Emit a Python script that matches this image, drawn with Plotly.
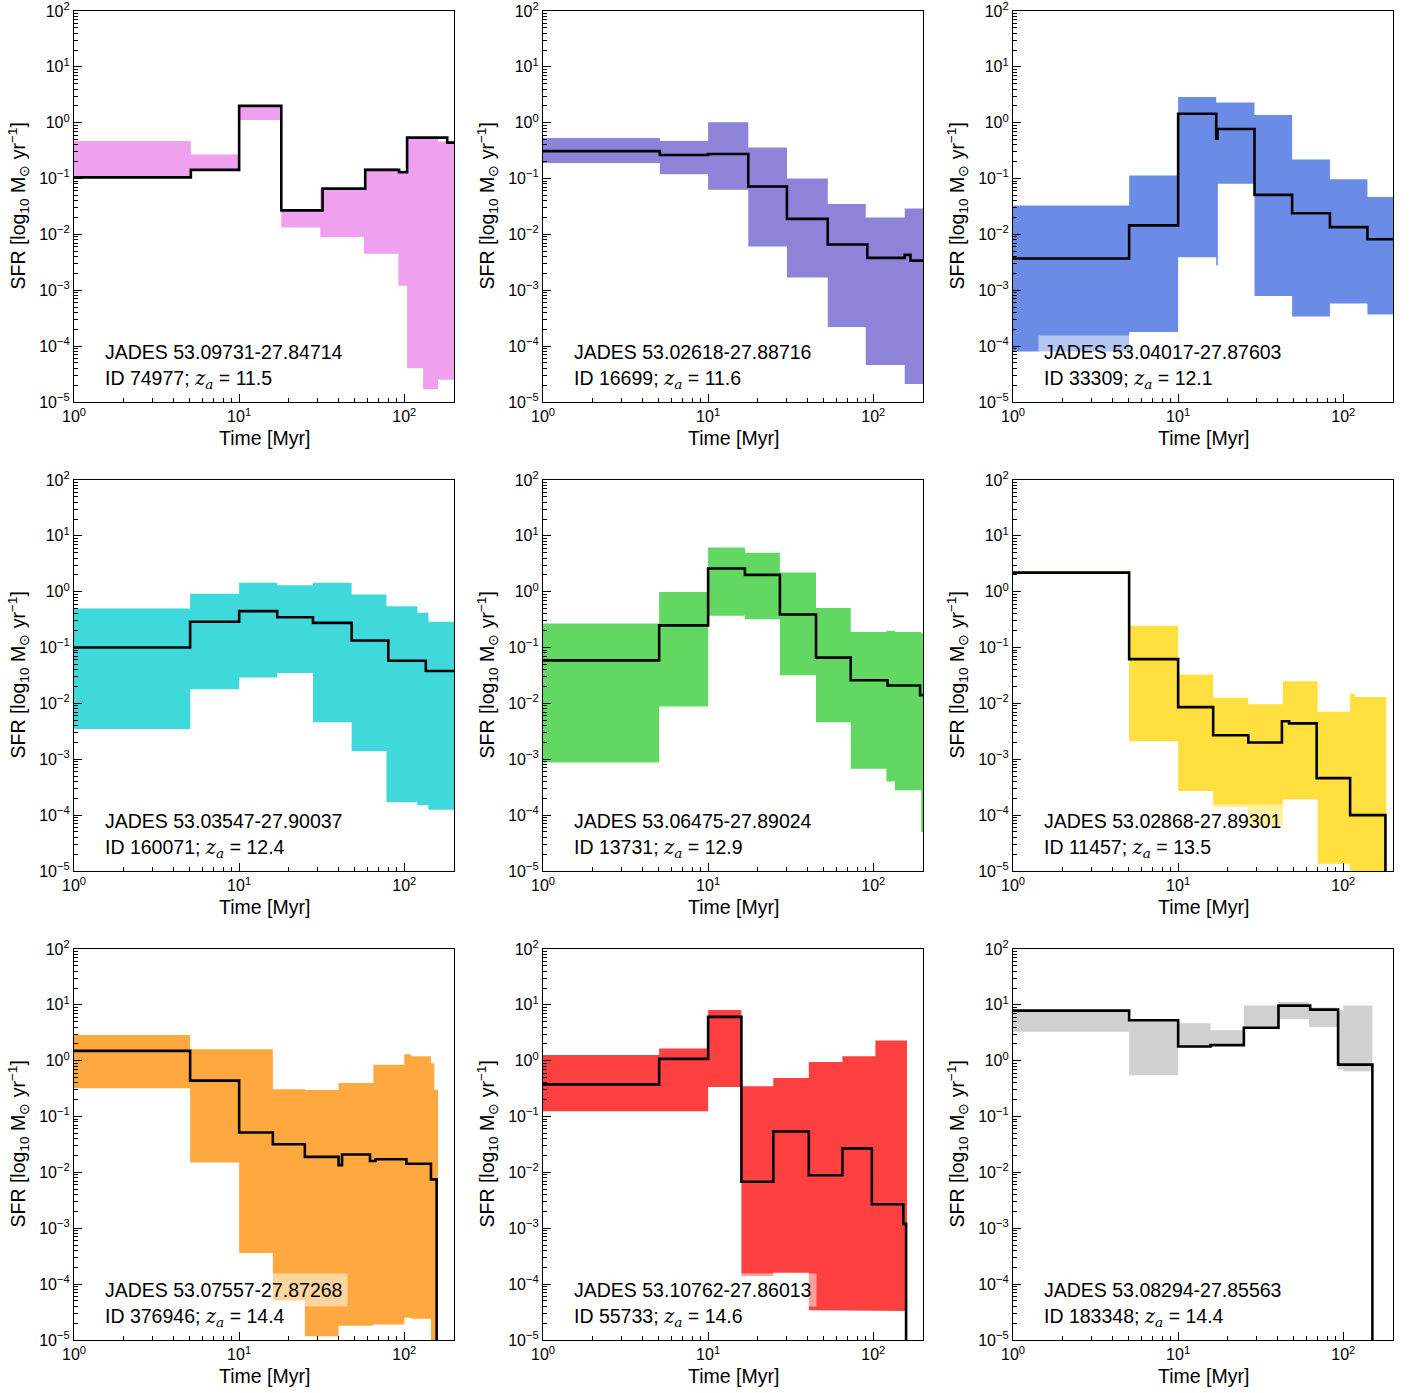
import math
import plotly.graph_objects as go

# ---------------- data ----------------
NAMES = ["JADES 53.09731-27.84714", "JADES 53.02618-27.88716", "JADES 53.04017-27.87603",
         "JADES 53.03547-27.90037", "JADES 53.06475-27.89024", "JADES 53.02868-27.89301",
         "JADES 53.07557-27.87268", "JADES 53.10762-27.86013", "JADES 53.08294-27.85563"]
IDS = ["74977", "16699", "33309", "160071", "13731", "11457", "376946", "55733", "183348"]
ZA = ["11.5", "11.6", "12.1", "12.4", "12.9", "13.5", "14.4", "14.6", "14.4"]
COLORS = ["#EFA0EE", "#8D83D9", "#6B8CE6", "#3FD8DB", "#62D862",
          "#FFE03F", "#FFA83F", "#FF4040", "#D0D0D0"]

X_TICKS = [1, 10, 100]
X_EXP = [0, 1, 2]
Y_TICKS = [1e-5, 1e-4, 1e-3, 1e-2, 1e-1, 1, 10, 100]
Y_EXP = [-5, -4, -3, -2, -1, 0, 1, 2]

# panel 1 : ID 74977
P1_T = [1, 5.1, 10, 18, 32, 58, 93, 104, 182, 200]
P1_SFR = [0.105, 0.143, 2.0, 0.027, 0.066, 0.143, 0.13, 0.54, 0.44]
P1_BT = [1, 5.1, 10, 18, 31, 57, 92, 104, 130, 160, 200]
P1_LO = [0.105, 0.14, 1.12, 0.0133, 0.0089, 0.0045, 0.0012, 4e-5, 1.7e-5, 2.5e-5]
P1_HI = [0.47, 0.27, 2.0, 0.028, 0.066, 0.155, 0.14, 0.54, 0.54, 0.46]

# panel 2 : ID 16699
P2_T = [1, 5.1, 10, 17.5, 30, 53, 92, 155, 168, 200]
P2_SFR = [0.31, 0.265, 0.275, 0.072, 0.019, 0.0066, 0.0038, 0.0043, 0.0034]
P2_BT = [1, 5.1, 10, 17.5, 30, 53, 90, 155, 200]
P2_LO = [0.19, 0.12, 0.063, 0.0061, 0.0017, 2.2e-4, 4.6e-5, 2.1e-5]
P2_HI = [0.53, 0.47, 1.02, 0.36, 0.10, 0.035, 0.02, 0.029]

# panel 3 : ID 33309
P3_T = [1, 5.05, 10, 17, 17.3, 29, 49, 83, 140, 200]
P3_SFR = [0.0037, 0.0145, 1.45, 0.52, 0.77, 0.051, 0.024, 0.0135, 0.0082]
P3_BT = [1, 5.05, 10, 17, 17.4, 29, 49, 83, 140, 200]
P3_LO = [8e-5, 1.8e-4, 0.0039, 0.0028, 0.081, 7.9e-4, 3.4e-4, 5.8e-4, 3.7e-4]
P3_HI = [0.033, 0.113, 2.9, 2.3, 2.3, 1.38, 0.22, 0.097, 0.047]

# panel 4 : ID 160071
P4_T = [1, 5.05, 10, 17, 28, 48, 80, 135, 200]
P4_SFR = [0.1, 0.29, 0.45, 0.35, 0.277, 0.134, 0.058, 0.038]
P4_BT = [1, 5.05, 10, 17, 28, 48, 78, 120, 140, 200]
P4_LO = [0.0035, 0.018, 0.029, 0.035, 0.0046, 0.0014, 1.7e-4, 1.5e-4, 1.25e-4]
P4_HI = [0.5, 0.92, 1.45, 1.3, 1.45, 0.89, 0.55, 0.42, 0.29]

# panel 5 : ID 13731
P5_T = [1, 5.05, 10, 16.7, 27.2, 45, 73, 122, 192, 200]
P5_SFR = [0.059, 0.25, 2.6, 2.0, 0.39, 0.066, 0.026, 0.021, 0.014]
P5_BT = [1, 5.05, 10, 16.7, 27.2, 45, 73, 120, 135, 195, 200]
P5_LO = [8.8e-4, 0.0088, 0.37, 0.32, 0.032, 0.0046, 6.8e-4, 4e-4, 2.8e-4, 5e-5]
P5_HI = [0.27, 0.99, 6.2, 5.0, 2.2, 0.51, 0.19, 0.2, 0.19, 0.18]

# panel 6 : ID 11457
P6_T = [1, 5.05, 10, 16.3, 26.6, 42.5, 47, 69, 110, 180, 180]
P6_SFR = [2.2, 0.062, 0.0086, 0.0027, 0.002, 0.0048, 0.0044, 4.6e-4, 1e-4, 1e-7]
P6_BT = [1, 5.05, 10, 16.3, 26.6, 43, 70, 110, 118, 182]
P6_LO = [2.1, 0.0021, 2.7e-4, 1.4e-4, 6.5e-5, 1.9e-4, 1.35e-5, 8e-6, 8e-6]
P6_HI = [2.35, 0.245, 0.033, 0.0127, 0.0097, 0.025, 0.0071, 0.015, 0.013]

# panel 7 : ID 376946
P7_T = [1, 5.05, 10, 16, 25, 40, 42, 62, 67, 103, 145, 157, 157]
P7_SFR = [1.5, 0.44, 0.052, 0.032, 0.019, 0.0135, 0.021, 0.016, 0.0172, 0.0143, 0.0075, 1e-7]
P7_BT = [1, 5.05, 10, 16, 25, 40, 65, 100, 110, 145, 152, 160]
P7_LO = [0.32, 0.015, 3.6e-4, 5.1e-5, 1.17e-5, 1.8e-5, 1.9e-5, 2.5e-5, 2.4e-5, 1e-5, 5e-6]
P7_HI = [2.9, 1.6, 1.6, 0.31, 0.3, 0.4, 0.85, 1.3, 1.2, 0.9, 0.3]

# panel 8 : ID 55733
P8_T = [1, 5.05, 10, 15.9, 24.8, 40.7, 65, 98, 152, 158, 158]
P8_SFR = [0.377, 1.08, 6.1, 0.0068, 0.054, 0.0089, 0.027, 0.0027, 0.0012, 1e-7]
P8_BT = [1, 5.05, 10, 15.9, 24.8, 40.7, 65, 103, 160]
P8_LO = [0.124, 0.124, 0.34, 1.4e-4, 1.6e-4, 3.4e-5, 3.4e-5, 3.3e-5]
P8_HI = [1.26, 1.65, 8.1, 0.35, 0.49, 0.95, 1.2, 2.3]

# panel 9 : ID 183348
P9_T = [1, 5.05, 10, 15.7, 25, 40.5, 63, 93, 150, 150]
P9_SFR = [7.9, 5.3, 1.8, 1.9, 3.9, 9.7, 8.2, 0.85, 1e-7]
P9_BT = [1, 5.05, 10, 15.7, 25, 40.5, 62, 93, 100, 150]
P9_LO = [3.3, 0.55, 1.8, 1.9, 3.9, 5.6, 4.0, 0.7, 0.65]
P9_HI = [7.9, 5.3, 4.7, 3.5, 9.7, 11.3, 9.0, 8.0, 9.7]

PANELS = [
    (P1_T, P1_SFR, P1_BT, P1_LO, P1_HI),
    (P2_T, P2_SFR, P2_BT, P2_LO, P2_HI),
    (P3_T, P3_SFR, P3_BT, P3_LO, P3_HI),
    (P4_T, P4_SFR, P4_BT, P4_LO, P4_HI),
    (P5_T, P5_SFR, P5_BT, P5_LO, P5_HI),
    (P6_T, P6_SFR, P6_BT, P6_LO, P6_HI),
    (P7_T, P7_SFR, P7_BT, P7_LO, P7_HI),
    (P8_T, P8_SFR, P8_BT, P8_LO, P8_HI),
    (P9_T, P9_SFR, P9_BT, P9_LO, P9_HI),
]

# ---------------- layout ----------------
W, H = 1413, 1393
COL_LEFT = [74, 543, 1013]
ROW_TOP = [11, 480, 949]
PW, PH = 380, 391
FONT = "Liberation Sans, Arial, Helvetica, sans-serif"
SERIF = "DejaVu Serif, Liberation Serif, serif"


def steps(edges, vals):
    xs, ys = [], []
    for i, v in enumerate(vals):
        xs += [edges[i], edges[i + 1]]
        ys += [v, v]
    return xs, ys


def sup(e):
    return "10<sup>" + ("\u2212" + str(-e) if e < 0 else str(e)) + "</sup>"


minor_x = [k * 10 ** n for n in range(0, 3) for k in range(2, 10)]
minor_y = [k * 10.0 ** n for n in range(-5, 2) for k in range(2, 10)]

fig = go.Figure()
layout = dict(width=W, height=H, margin=dict(l=0, r=0, t=0, b=0, autoexpand=False),
              plot_bgcolor="white", paper_bgcolor="white", showlegend=False,
              font=dict(family=FONT, color="black"))
annotations = []

for i, (lt, sfr, bt, lo, hi) in enumerate(PANELS):
    n = i + 1
    r, c = divmod(i, 3)
    sx = "" if n == 1 else str(n)
    xname, yname = "x" + sx, "y" + sx
    x0 = COL_LEFT[c] / W
    x1 = (COL_LEFT[c] + PW) / W
    y1 = 1 - ROW_TOP[r] / H
    y0 = 1 - (ROW_TOP[r] + PH) / H

    hx, hy = steps(bt, hi)
    lx, ly = steps(bt, lo)
    fig.add_trace(go.Scatter(x=hx + lx[::-1], y=hy + ly[::-1], fill="toself",
                             fillcolor=COLORS[i], mode="lines",
                             line=dict(width=0, color=COLORS[i]),
                             xaxis=xname, yaxis=yname, hoverinfo="skip"))
    sxs, sys_ = steps(lt, sfr)
    fig.add_trace(go.Scatter(x=sxs, y=sys_, mode="lines",
                             line=dict(color="black", width=2.6),
                             xaxis=xname, yaxis=yname))

    common = dict(showgrid=False, zeroline=False, showline=True, linecolor="black",
                  linewidth=1.2, mirror=True, ticks="inside", ticklen=8, tickwidth=1,
                  tickcolor="black", automargin=False, ticklabeloverflow="allow",
                  tickfont=dict(size=16, color="black", family=FONT))
    layout["xaxis" + sx] = dict(type="log", range=[0, math.log10(200)],
                                domain=[x0, x1], anchor=yname,
                                tickmode="array", tickvals=X_TICKS,
                                ticktext=[sup(e) for e in X_EXP],
                                minor=dict(tickmode="array", tickvals=minor_x, ticks="inside",
                                           ticklen=4, tickwidth=1, tickcolor="black"),
                                **common)
    layout["yaxis" + sx] = dict(type="log", range=[-5, 2],
                                domain=[y0, y1], anchor=xname,
                                tickmode="array", tickvals=Y_TICKS,
                                ticktext=[sup(e) for e in Y_EXP],
                                minor=dict(tickmode="array", tickvals=minor_y, ticks="inside",
                                           ticklen=4, tickwidth=1, tickcolor="black"),
                                **common)

    xd, yd = xname + " domain", yname + " domain"
    annotations.append(dict(text=NAMES[i], xref=xd, yref=yd, x=25 / PW, y=50 / PH,
                            xanchor="left", yanchor="middle", showarrow=False,
                            bgcolor="rgba(255,255,255,0.5)", borderpad=5,
                            font=dict(size=19.5, color="black", family=FONT)))
    annotations.append(dict(text="ID " + IDS[i] + "; <span style='font-family:" + SERIF +
                                 "'><i>z</i><sub><i>a</i></sub></span> = " + ZA[i],
                            xref=xd, yref=yd, x=25 / PW, y=23 / PH,
                            xanchor="left", yanchor="middle", showarrow=False, borderpad=5,
                            font=dict(size=19.5, color="black", family=FONT)))
    annotations.append(dict(text="Time [Myr]", xref=xd, yref=yd, x=0.5, y=-36 / PH,
                            xanchor="center", yanchor="middle", showarrow=False,
                            font=dict(size=19.5, color="black", family=FONT)))
    annotations.append(dict(text="SFR [log<sub>10</sub> M<sub>\u2299</sub> yr<sup>\u22121</sup>]",
                            xref=xd, yref=yd, x=-56 / PW, y=0.5, textangle=-90,
                            xanchor="center", yanchor="middle", showarrow=False,
                            font=dict(size=19.5, color="black", family=FONT)))

layout["annotations"] = annotations
fig.update_layout(**layout)
fig.write_html("out.html", config={"displayModeBar": False},
               post_script="document.body.style.margin='0';")
